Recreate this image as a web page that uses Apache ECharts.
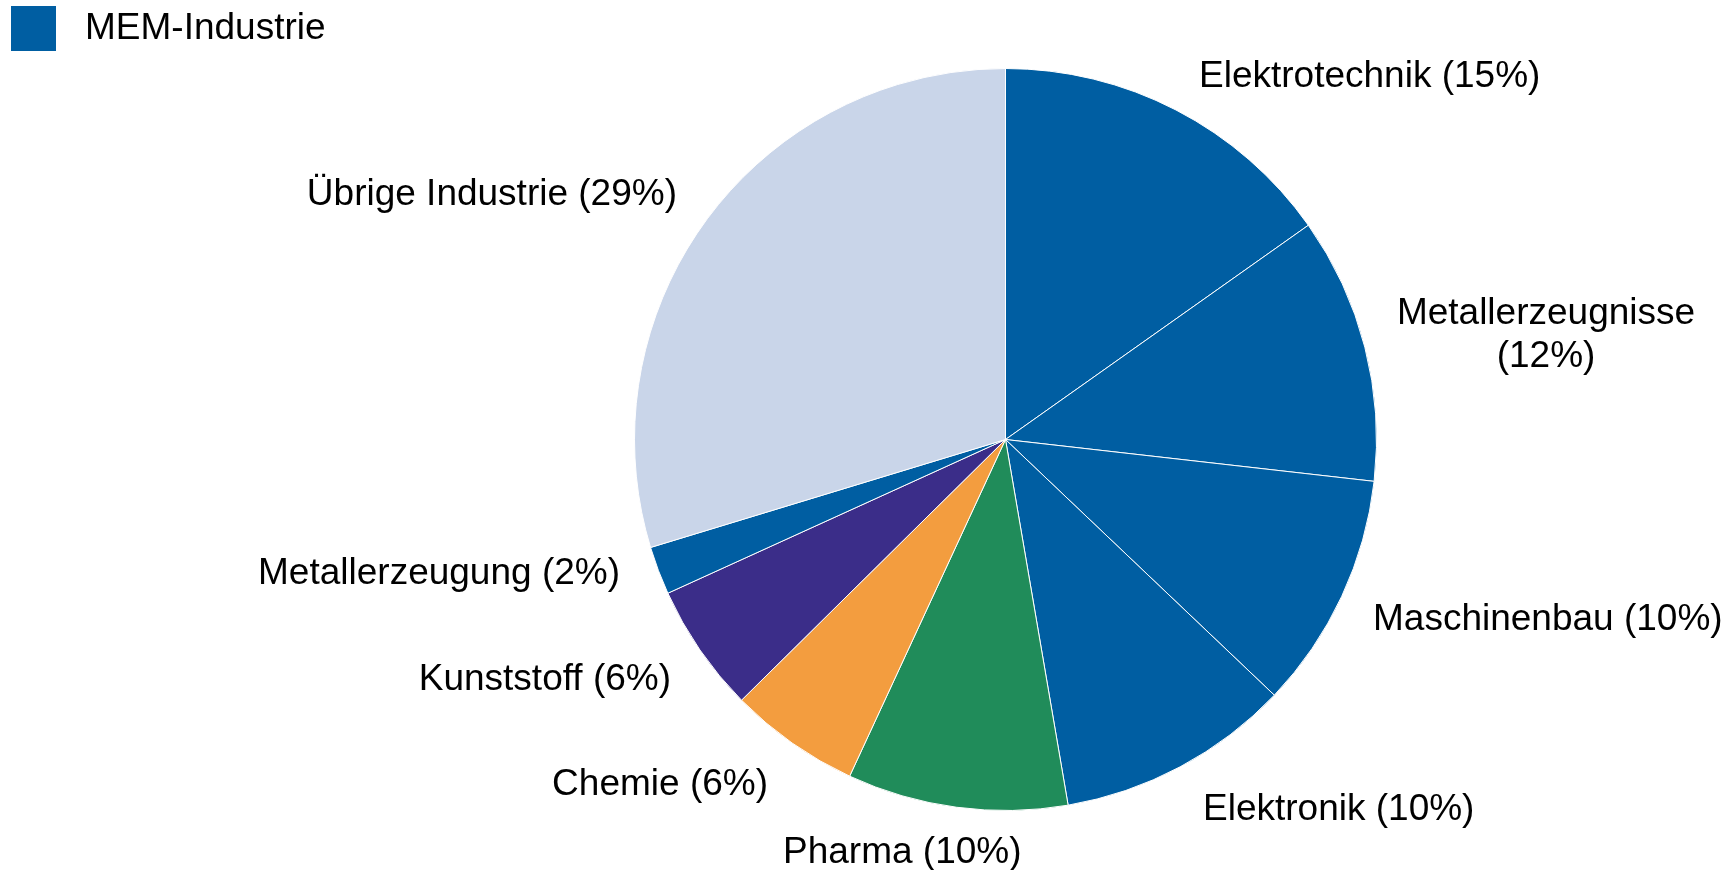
<!DOCTYPE html>
<html>
<head>
<meta charset="utf-8">
<script src="https://cdn.jsdelivr.net/npm/echarts@6/dist/echarts.min.js"></script>
<style>
html,body{margin:0;padding:0;background:#fff;}
#chart{width:1729px;height:870px;}
</style>
</head>
<body>
<div id="chart"></div>
<script>
// Data
const categories = ['Elektrotechnik', 'Metallerzeugnisse', 'Maschinenbau', 'Elektronik', 'Pharma', 'Chemie', 'Kunststoff', 'Metallerzeugung', 'Übrige Industrie'];
const shares = [15.2, 11.6, 10.3, 10.2, 9.6, 5.7, 5.6, 2.1, 29.7];
const shareLabels = ['15%', '12%', '10%', '10%', '10%', '6%', '6%', '2%', '29%'];
const legendName = 'MEM-Industrie';

// Styling / layout (kept separate from the data)
const BLUE = '#005ea2';
const colors = [BLUE, BLUE, BLUE, BLUE, '#208c5a', '#f39d3f', '#3b2d89', BLUE, '#c9d5e9'];
const FONT = '"Liberation Sans", Arial, sans-serif';
const labelAnchors = [
  {x: 1199, y: 77,  align: 'left'},
  {x: 1546, y: 335, align: 'center'},
  {x: 1373, y: 620, align: 'left'},
  {x: 1203, y: 810, align: 'left'},
  {x: 783,  y: 853, align: 'left'},
  {x: 768,  y: 785, align: 'right'},
  {x: 671,  y: 680, align: 'right'},
  {x: 620,  y: 574, align: 'right'},
  {x: 677,  y: 195, align: 'right'}
];
const multiLine = [false, true, false, false, false, false, false, false, false];

const chart = echarts.init(document.getElementById('chart'), null, {renderer: 'canvas'});
chart.setOption({
  animation: false,
  backgroundColor: '#ffffff',
  graphic: [
    {type: 'rect', left: 11, top: 6, shape: {width: 45, height: 45}, style: {fill: BLUE}},
    {type: 'text', left: 85, top: 10, style: {text: legendName, font: '37px ' + FONT, fill: '#000'}}
  ],
  series: [{
    type: 'pie',
    center: [1005.5, 439.5],
    radius: 371,
    startAngle: 90,
    clockwise: true,
    avoidLabelOverlap: false,
    itemStyle: {borderColor: '#ffffff', borderWidth: 1},
    emphasis: {disabled: true},
    label: {
      show: true,
      position: 'outside',
      fontFamily: FONT,
      fontSize: 37,
      color: '#000',
      lineHeight: 43,
      formatter: p => categories[p.dataIndex] + (multiLine[p.dataIndex] ? '\n' : ' ') + '(' + shareLabels[p.dataIndex] + ')'
    },
    labelLine: {show: false},
    labelLayout: p => ({
      x: labelAnchors[p.dataIndex].x,
      y: labelAnchors[p.dataIndex].y,
      align: labelAnchors[p.dataIndex].align,
      verticalAlign: 'middle'
    }),
    data: categories.map((c, i) => ({name: c, value: shares[i], itemStyle: {color: colors[i]}}))
  }]
});
</script>
</body>
</html>
